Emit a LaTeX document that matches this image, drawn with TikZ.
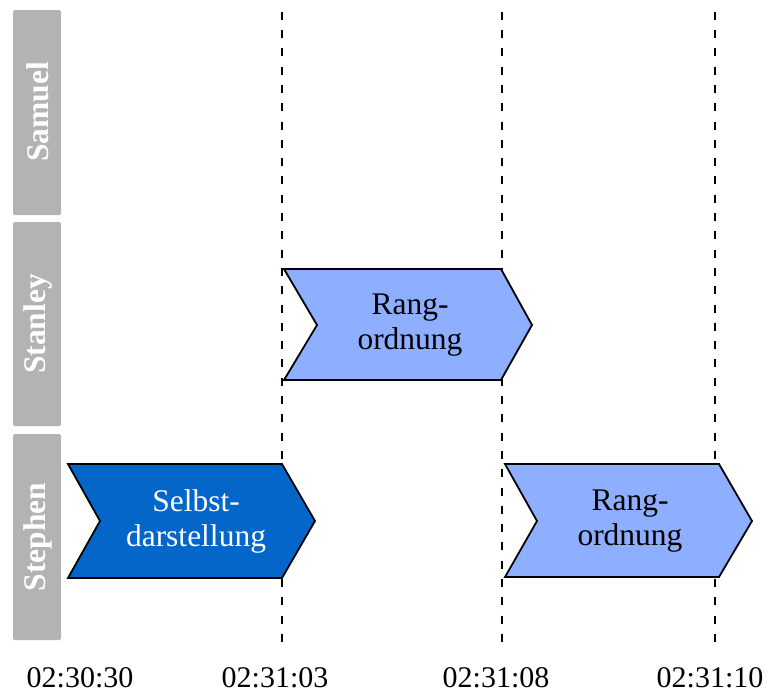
\documentclass[tikz,border=0pt]{standalone}
\usepackage{fontspec}
\setmainfont{Liberation Serif}
\definecolor{lanegray}{HTML}{B3B3B3}
\definecolor{darkblue}{HTML}{0566C9}
\definecolor{lightblue}{HTML}{8EAEFF}
\begin{document}
\begin{tikzpicture}[x=1pt,y=-1pt,
  lanebar/.style={fill=lanegray,draw=none,rounded corners=1.5pt},
  lanelabel/.style={rotate=90,text=white,font=\fontsize{31.5}{34}\selectfont\bfseries},
  timeline/.style={draw=black,line width=2.6pt,dash pattern=on 8pt off 10.3pt},
  chevdark/.style={fill=darkblue,draw=black,line width=1.8pt,line join=miter},
  chevlight/.style={fill=lightblue,draw=black,line width=1.8pt,line join=miter},
  boxtext/.style={align=center,font=\fontsize{31.5}{35}\selectfont},
  timelabel/.style={font=\fontsize{30}{34}\selectfont}]
\useasboundingbox (0,0) rectangle (769,694);

% swim lanes
\fill[lanebar] (13,10) rectangle (61,215);
\fill[lanebar] (13,222) rectangle (61,426);
\fill[lanebar] (13,434) rectangle (61,640);
\node[lanelabel] (samuel) at (38,112) {Samuel};
\node[lanelabel] (stanley) at (38,324) {Stanley};
\node[lanelabel] (stephen) at (38,537) {Stephen};

% time markers
\coordinate (t1top) at (282,11.7);  \coordinate (t1bot) at (282,650);
\coordinate (t2top) at (502,11.7);  \coordinate (t2bot) at (502,650);
\coordinate (t3top) at (715,11.7);  \coordinate (t3bot) at (715,650);
\draw[timeline] (t1top) -- (t1bot);
\draw[timeline] (t2top) -- (t2bot);
\draw[timeline] (t3top) -- (t3bot);

\node[timelabel] (ta) at (80,677.5) {02:30:30};
\node[timelabel] (tb) at (275,677.5) {02:31:03};
\node[timelabel] (tc) at (496,677.5) {02:31:08};
\node[timelabel] (td) at (710,677.5) {02:31:10};

% activities
\draw[chevdark] (68,464) -- (282,464) -- (315,521) -- (282,578) -- (68,578) -- (100,521) -- cycle;
\node[boxtext,text=white] (selbst) at (196,521) {Selbst-\\darstellung};

\draw[chevlight] (284,269) -- (501,269) -- (532,325) -- (501,380) -- (284,380) -- (317,325) -- cycle;
\node[boxtext] (rang1) at (410,325) {Rang-\\ordnung};

\draw[chevlight] (505,464) -- (719,464) -- (752,521) -- (719,577) -- (505,577) -- (537,521) -- cycle;
\node[boxtext] (rang2) at (630,521) {Rang-\\ordnung};
\end{tikzpicture}
\end{document}
